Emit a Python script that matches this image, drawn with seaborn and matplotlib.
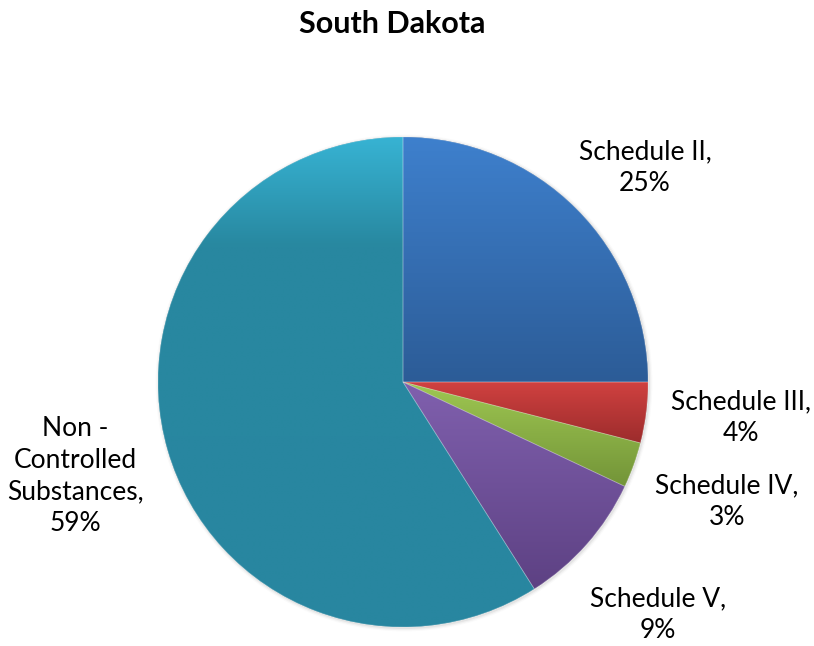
import numpy as np
import matplotlib
matplotlib.use("Agg")
import matplotlib.pyplot as plt
from matplotlib.colors import LinearSegmentedColormap
from matplotlib.patches import Circle, Wedge
import seaborn as sns

sns.set_style("white")
plt.rcParams['font.family'] = ['Lato', 'DejaVu Sans']

# Prescription share by schedule
categories = ["Schedule II", "Schedule III", "Schedule IV", "Schedule V",
              "Non -\nControlled\nSubstances"]
shares = [25, 4, 3, 9, 59]

# vertical gradient stops (top -> bottom) for each slice
gradients = [
    [(0.0, "#3e80cd"), (1.0, "#2c5c97")],
    [(0.0, "#d04140"), (1.0, "#9c2c2c")],
    [(0.0, "#9fc852"), (1.0, "#739438")],
    [(0.0, "#8060ae"), (1.0, "#5d4183")],
    [(0.0, "#37b3d3"), (0.22, "#2888a0"), (1.0, "#2886a0")],
]
label_pos = [(645, 168), (741, 418), (727, 502), (658, 615), (75, 476)]

W, H = 814, 646
fig = plt.figure(figsize=(W / 100, H / 100), dpi=100)
ax = fig.add_axes([0, 0, 1, 1])

cx, cy, r = 403, H - 382, 245

# soft drop shadow
for i, a in enumerate([0.10, 0.07, 0.04]):
    ax.add_patch(Circle((cx + 1, cy - 1), r + 1 + i * 1.2, color="#808080",
                        alpha=a, lw=0, zorder=0))

wedges, _ = ax.pie(shares, startangle=90, counterclock=False,
                   center=(cx, cy), radius=r, frame=True,
                   wedgeprops=dict(edgecolor="none", linewidth=0))

grad = np.linspace(0, 1, 256).reshape(-1, 1)
for w, stops in zip(wedges, gradients):
    ext = w.get_path().get_extents()
    cmap = LinearSegmentedColormap.from_list("g", stops)
    w.set_facecolor(stops[-1][1])
    im = ax.imshow(grad, cmap=cmap, vmin=0, vmax=1, aspect="auto",
                   extent=[ext.x0, ext.x1, ext.y0, ext.y1], origin="upper",
                   zorder=2, interpolation="bilinear")
    im.set_clip_path(w)
    # faint light separators between slices
    ax.add_patch(Wedge(w.center, w.r, w.theta1, w.theta2, facecolor="none",
                       edgecolor=(1, 1, 1, 0.25), linewidth=0.6, zorder=3))

ax.set_xlim(0, W)
ax.set_ylim(0, H)
ax.set_aspect("auto")
ax.axis("off")

for name, pct, (px, py) in zip(categories, shares, label_pos):
    ax.text(px, H - py, f"{name},\n{pct}%", ha="center", va="center",
            fontsize=19, color="black", linespacing=1.32)

ax.text(392, H - 24, "South Dakota", ha="center", va="center",
        fontsize=22, fontweight="bold", color="black")

fig.savefig("out.png", dpi=100, facecolor="white")
